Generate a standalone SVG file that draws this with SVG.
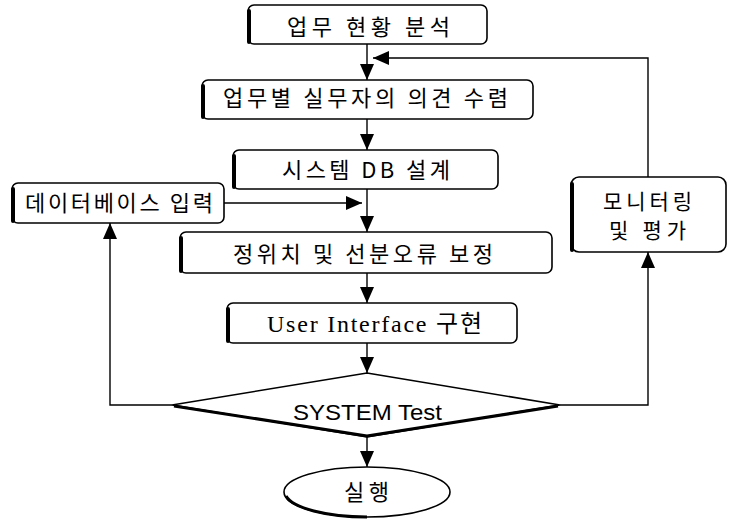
<svg xmlns="http://www.w3.org/2000/svg" width="731" height="524" viewBox="0 0 731 524">
<defs>
<style>
.box{fill:#fff;stroke:#000;stroke-width:1.6}
.sh{fill:none;stroke:#000;stroke-width:4;stroke-linecap:round}
.ko{font-family:"Noto Sans CJK KR","Noto Sans",sans-serif;font-size:22px;fill:#000}
.ser{font-family:"Liberation Serif","Noto Sans CJK KR",serif;font-size:24px;fill:#000}
.sans{font-family:"Liberation Sans",Arial,sans-serif;font-size:22px;fill:#000}
.ln{fill:none;stroke:#000;stroke-width:1.4}
</style>
<marker id="ah" markerUnits="userSpaceOnUse" markerWidth="16" markerHeight="14" viewBox="0 0 16 14" refX="16" refY="7" orient="auto">
<path d="M0,0 L16,7 L0,14 Z" fill="#000"/>
</marker>
</defs>
<rect width="731" height="524" fill="#fff"/>
<g id="connectors">
<line class="ln" x1="367" y1="44" x2="367" y2="80" marker-end="url(#ah)"/>
<polyline class="ln" points="648,177 648,58 373,58" marker-end="url(#ah)"/>
<line class="ln" x1="367" y1="119" x2="367" y2="150" marker-end="url(#ah)"/>
<line class="ln" x1="367" y1="189" x2="367" y2="232" marker-end="url(#ah)"/>
<line class="ln" x1="224" y1="203" x2="362" y2="203" marker-end="url(#ah)"/>
<line class="ln" x1="367" y1="273" x2="367" y2="303" marker-end="url(#ah)"/>
<line class="ln" x1="367" y1="343" x2="367" y2="373" marker-end="url(#ah)"/>
<line class="ln" x1="367" y1="437" x2="367" y2="467" marker-end="url(#ah)"/>
<polyline class="ln" points="172,405 110,405 110,223" marker-end="url(#ah)"/>
<polyline class="ln" points="560,405 648,405 648,252" marker-end="url(#ah)"/>
</g>
<g id="n1">
<rect class="box" x="248" y="5" width="239" height="39" rx="6"/>
<path class="sh" d="M249,11 V42"/>
<text class="ko" x="287" y="35" textLength="163" lengthAdjust="spacing">업무 현황 분석</text>
</g>
<g id="n2">
<rect class="box" x="202" y="80" width="331" height="39" rx="6"/>
<path class="sh" d="M203,86 V117"/>
<text class="ko" x="223" y="106" textLength="285" lengthAdjust="spacing">업무별 실무자의 의견 수렴</text>
</g>
<g id="n3">
<rect class="box" x="233" y="150" width="265" height="39" rx="6"/>
<path class="sh" d="M234,156 V187"/>
<text class="ko" x="282" y="178" textLength="168" lengthAdjust="spacing">시스템 DB 설계</text>
</g>
<g id="n4">
<rect class="box" x="12" y="183" width="212" height="40" rx="6"/>
<path class="sh" d="M13,189 V221"/>
<text class="ko" x="25" y="211" textLength="188" lengthAdjust="spacing">데이터베이스 입력</text>
</g>
<g id="n5">
<rect class="box" x="180" y="232" width="372" height="41" rx="6"/>
<path class="sh" d="M181,238 V271"/>
<text class="ko" x="233" y="262" textLength="260" lengthAdjust="spacing">정위치 및 선분오류 보정</text>
</g>
<g id="n6">
<rect class="box" x="227" y="303" width="290" height="40" rx="6"/>
<path class="sh" d="M228,309 V341"/>
<text class="ser" x="267" y="332" textLength="215" lengthAdjust="spacing">User Interface 구현</text>
</g>
<g id="n7">
<rect class="box" x="571" y="177" width="155" height="75" rx="8"/>
<path class="sh" d="M572,184 V250"/>
<text class="ko" x="603" y="209" textLength="89" lengthAdjust="spacing" style="font-size:21px">모니터링</text>
<text class="ko" x="609" y="238" textLength="77" lengthAdjust="spacing" style="font-size:21px">및 평가</text>
</g>
<g id="n8">
<polygon class="box" points="367,373 560,405 367,437 172,405"/>
<path fill="none" stroke="#000" stroke-width="3.2" d="M174,406 L367,436 L558,406"/>
<text class="sans" x="293" y="420" textLength="149" lengthAdjust="spacingAndGlyphs">SYSTEM Test</text>
</g>
<g id="n9">
<ellipse class="box" cx="367" cy="492" rx="83" ry="25" stroke-width="1.8"/>
<path fill="none" stroke="#000" stroke-width="3" d="M286,496 A83,25 0 0 0 367,517"/>
<text class="ko" x="344" y="500" textLength="45" lengthAdjust="spacing">실행</text>
</g>
</svg>
